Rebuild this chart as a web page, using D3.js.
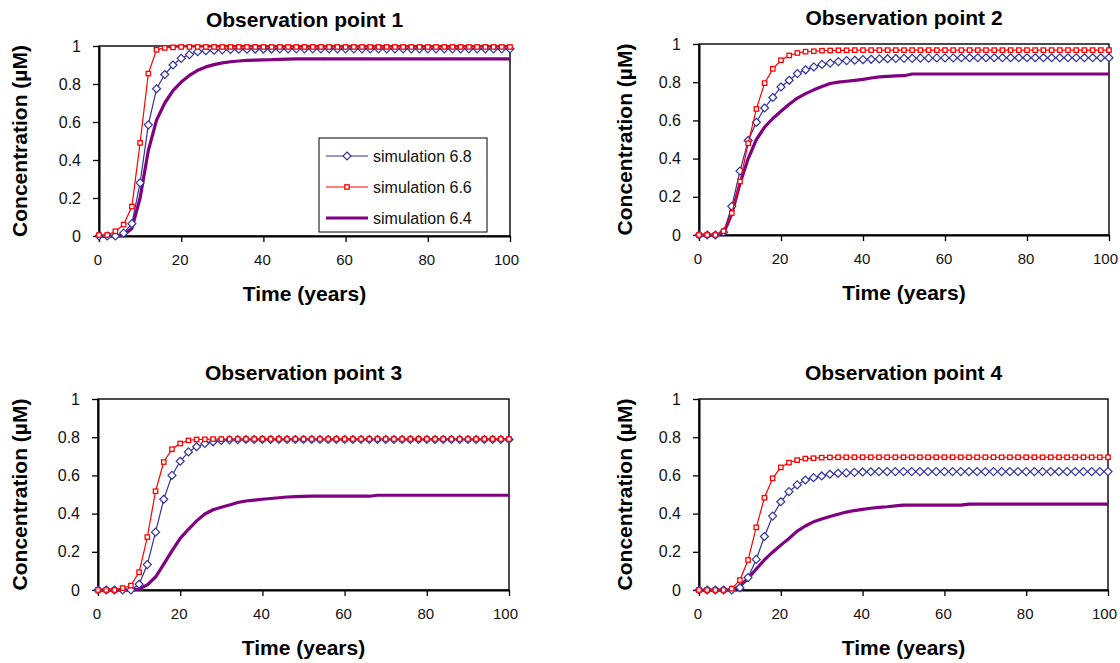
<!DOCTYPE html>
<html><head><meta charset="utf-8">
<script src="https://cdn.jsdelivr.net/npm/d3@7"></script>
<style>
body{margin:0;background:#fff;}
svg{display:block;font-family:"Liberation Sans",Arial,sans-serif;}
</style></head>
<body><svg id="c" width="1120" height="663"></svg>
<script>
// ---- data ----
const years = [0,2,4,6,8,10,12,14,16,18,20,22,24,26,28,30,32,34,36,38,40,42,44,46,48,50,52,54,56,58,60,62,64,66,68,70,72,74,76,78,80,82,84,86,88,90,92,94,96,98,100];
const seriesNames = ["simulation 6.8","simulation 6.6","simulation 6.4"];
const panelTitles = ["Observation point 1","Observation point 2","Observation point 3","Observation point 4"];
const xTicks = [0,20,40,60,80,100];
const yTicks = [0,0.2,0.4,0.6,0.8,1];
const xTitle = "Time (years)";
const yTitle = "Concentration (\u00B5M)";

// Observation point 1
const sim68_p1 = [0,0,0,0.015,0.065,0.28,0.585,0.775,0.85,0.9,0.935,0.955,0.97,0.975,0.978,0.98,0.982,0.983,0.983,0.984,0.984,0.984,0.985,0.985,0.985,0.985,0.985,0.985,0.985,0.985,0.985,0.985,0.985,0.985,0.985,0.985,0.985,0.985,0.985,0.985,0.985,0.985,0.985,0.985,0.985,0.985,0.985,0.985,0.985,0.985,0.985];
const sim66_p1 = [0.005,0.005,0.025,0.06,0.155,0.49,0.855,0.98,0.99,0.993,0.995,0.995,0.995,0.995,0.995,0.995,0.995,0.995,0.995,0.995,0.995,0.995,0.995,0.995,0.995,0.995,0.995,0.995,0.995,0.995,0.995,0.995,0.995,0.995,0.995,0.995,0.995,0.995,0.995,0.995,0.995,0.995,0.995,0.995,0.995,0.995,0.995,0.995,0.995,0.995,0.995];
const sim64_p1 = [0,0,0,0.005,0.04,0.2,0.45,0.61,0.7,0.765,0.81,0.845,0.872,0.89,0.902,0.911,0.917,0.921,0.924,0.926,0.927,0.928,0.93,0.931,0.932,0.932,0.932,0.932,0.932,0.932,0.932,0.932,0.932,0.932,0.932,0.932,0.932,0.932,0.932,0.932,0.932,0.932,0.932,0.932,0.932,0.932,0.932,0.932,0.932,0.932,0.932];

// Observation point 2
const sim68_p2 = [0,0,0,0.015,0.15,0.335,0.495,0.59,0.665,0.72,0.775,0.81,0.845,0.865,0.88,0.893,0.9,0.908,0.913,0.915,0.918,0.92,0.922,0.923,0.924,0.925,0.925,0.926,0.926,0.927,0.927,0.927,0.928,0.928,0.928,0.928,0.928,0.928,0.928,0.928,0.928,0.928,0.928,0.928,0.928,0.928,0.928,0.928,0.928,0.928,0.928];
const sim66_p2 = [0,0,0,0.02,0.115,0.28,0.48,0.66,0.795,0.87,0.915,0.94,0.953,0.96,0.962,0.965,0.966,0.967,0.967,0.968,0.968,0.968,0.968,0.968,0.968,0.968,0.968,0.968,0.968,0.968,0.968,0.968,0.968,0.968,0.968,0.968,0.968,0.968,0.968,0.968,0.968,0.968,0.968,0.968,0.968,0.968,0.968,0.968,0.968,0.968,0.968];
const sim64_p2 = [0,0,0,0.01,0.11,0.27,0.4,0.5,0.565,0.61,0.648,0.685,0.717,0.74,0.76,0.778,0.793,0.8,0.805,0.81,0.815,0.822,0.828,0.831,0.833,0.834,0.843,0.843,0.843,0.843,0.843,0.843,0.843,0.843,0.843,0.843,0.843,0.843,0.843,0.843,0.843,0.843,0.843,0.843,0.843,0.843,0.843,0.843,0.843,0.843,0.843];

// Observation point 3
const sim68_p3 = [0,0,0,0,0,0.03,0.133,0.303,0.475,0.6,0.674,0.723,0.75,0.767,0.776,0.783,0.786,0.787,0.788,0.788,0.788,0.788,0.788,0.788,0.788,0.788,0.788,0.788,0.788,0.788,0.788,0.788,0.788,0.788,0.788,0.788,0.788,0.788,0.788,0.788,0.788,0.788,0.788,0.788,0.788,0.788,0.788,0.788,0.788,0.788,0.788];
const sim66_p3 = [0,0,0,0.01,0.023,0.093,0.277,0.517,0.67,0.737,0.767,0.783,0.788,0.789,0.79,0.79,0.79,0.79,0.79,0.79,0.79,0.79,0.79,0.79,0.79,0.79,0.79,0.79,0.79,0.79,0.79,0.79,0.79,0.79,0.79,0.79,0.79,0.79,0.79,0.79,0.79,0.79,0.79,0.79,0.79,0.79,0.79,0.79,0.79,0.79,0.79];
const sim64_p3 = [0,0,0,0,0,0.005,0.027,0.068,0.135,0.205,0.27,0.318,0.362,0.398,0.42,0.433,0.445,0.458,0.466,0.471,0.475,0.479,0.483,0.487,0.489,0.49,0.491,0.491,0.491,0.491,0.491,0.491,0.491,0.491,0.496,0.496,0.496,0.496,0.496,0.496,0.496,0.496,0.496,0.496,0.496,0.496,0.496,0.496,0.496,0.496,0.496];

// Observation point 4
const sim68_p4 = [0,0,0,0,0,0.012,0.065,0.16,0.28,0.387,0.462,0.515,0.55,0.576,0.588,0.597,0.606,0.611,0.613,0.616,0.618,0.619,0.62,0.62,0.62,0.62,0.62,0.62,0.62,0.62,0.62,0.62,0.62,0.62,0.62,0.62,0.62,0.62,0.62,0.62,0.62,0.62,0.62,0.62,0.62,0.62,0.62,0.62,0.62,0.62,0.62];
const sim66_p4 = [0,0,0,0,0.007,0.052,0.157,0.328,0.483,0.585,0.642,0.667,0.68,0.688,0.69,0.693,0.694,0.695,0.695,0.695,0.695,0.695,0.695,0.695,0.695,0.695,0.695,0.695,0.695,0.695,0.695,0.695,0.695,0.695,0.695,0.695,0.695,0.695,0.695,0.695,0.695,0.695,0.695,0.695,0.695,0.695,0.695,0.695,0.695,0.695,0.695];
const sim64_p4 = [0,0,0,0,0,0.02,0.06,0.11,0.158,0.198,0.235,0.27,0.308,0.335,0.357,0.372,0.385,0.397,0.408,0.416,0.422,0.428,0.433,0.436,0.44,0.444,0.444,0.444,0.444,0.444,0.444,0.444,0.444,0.45,0.45,0.45,0.45,0.45,0.45,0.45,0.45,0.45,0.45,0.45,0.45,0.45,0.45,0.45,0.45,0.45,0.45];

const panelData = [
  [sim68_p1, sim66_p1, sim64_p1],
  [sim68_p2, sim66_p2, sim64_p2],
  [sim68_p3, sim66_p3, sim64_p3],
  [sim68_p4, sim66_p4, sim64_p4]
];

// ---- layout & style ----
const boxes = [
  {l:99, r:510, t:46, b:236, ylab:20},
  {l:699, r:1109, t:44, b:235, ylab:625},
  {l:98, r:509, t:399, b:590, ylab:20},
  {l:699, r:1108, t:399, b:590, ylab:625}
];
const colors = ["#333399","#ff0000","#800080"];
const svg = d3.select("#c");

panelData.forEach((series, pi) => {
  const bx = boxes[pi];
  const x = d3.scaleLinear().domain([0,100]).range([bx.l, bx.r]);
  const y = d3.scaleLinear().domain([0,1]).range([bx.b, bx.t]);
  const g = svg.append("g");

  // plot box (top/right)
  g.append("rect").attr("x", bx.l).attr("y", bx.t).attr("width", bx.r-bx.l).attr("height", bx.b-bx.t)
    .attr("fill","none").attr("stroke","#111").attr("stroke-width",1.5);

  const fmt = d => d === 0 ? "0" : d === 1 ? "1" : d3.format(".1f")(d);
  const xa = g.append("g").attr("transform",`translate(0,${bx.b})`)
    .call(d3.axisBottom(x).tickValues(xTicks).tickSize(6).tickSizeOuter(0).tickPadding(12).tickFormat(d3.format("d")));
  const ya = g.append("g").attr("transform",`translate(${bx.l},0)`)
    .call(d3.axisLeft(y).tickValues(yTicks).tickSize(6).tickSizeOuter(0).tickPadding(12).tickFormat(fmt));
  [xa, ya].forEach(a => {
    a.select(".domain").attr("stroke","#000").attr("stroke-width",2);
    a.selectAll(".tick line").attr("stroke","#000").attr("stroke-width",1.3);
    a.selectAll(".tick text").attr("fill","#111").attr("font-family","'Liberation Sans',Arial,sans-serif");
  });
  xa.selectAll(".tick text").attr("font-size","15px").attr("dx",d => d === 100 ? -4 : -1.5);
  ya.selectAll(".tick text").attr("font-size","16px");

  // series
  const line = d3.line().x((d,i)=>x(years[i])).y(d=>y(d));
  // purple (thick, no markers)
  g.append("path").datum(series[2]).attr("d", line).attr("fill","none")
    .attr("stroke", colors[2]).attr("stroke-width",3.2).attr("stroke-linejoin","round");
  // blue with diamonds
  g.append("path").datum(series[0]).attr("d", line).attr("fill","none")
    .attr("stroke", colors[0]).attr("stroke-width",1.2);
  const dsz = 4;
  g.selectAll(".dia").data(series[0]).enter().append("path")
    .attr("d",(d,i)=>{const cx=x(years[i]), cy=y(d); return `M${cx},${cy-dsz}L${cx+dsz},${cy}L${cx},${cy+dsz}L${cx-dsz},${cy}Z`;})
    .attr("fill","#fff").attr("stroke",colors[0]).attr("stroke-width",1.2);
  // red with squares
  g.append("path").datum(series[1]).attr("d", line).attr("fill","none")
    .attr("stroke", colors[1]).attr("stroke-width",1.2);
  const ss = 4.4;
  g.selectAll(".sq").data(series[1]).enter().append("rect")
    .attr("x",(d,i)=>x(years[i])-ss/2).attr("y",d=>y(d)-ss/2).attr("width",ss).attr("height",ss)
    .attr("fill","#fff").attr("stroke",colors[1]).attr("stroke-width",1.3);

  // titles
  g.append("text").attr("x",(bx.l+bx.r)/2).attr("y",bx.t-19).attr("text-anchor","middle")
    .attr("font-size","21px").attr("font-weight","bold").attr("fill","#000").text(panelTitles[pi]);
  g.append("text").attr("x",(bx.l+bx.r)/2).attr("y",bx.b+65).attr("text-anchor","middle")
    .attr("font-size","21px").attr("font-weight","bold").attr("fill","#000").text(xTitle);
  g.append("text").attr("transform",`translate(${bx.ylab+7},${(bx.t+bx.b)/2}) rotate(-90)`).attr("text-anchor","middle")
    .attr("font-size","21px").attr("font-weight","bold").attr("fill","#000").text(yTitle);

  // legend in panel 1
  if (pi === 0) {
    const lg = g.append("g");
    lg.append("rect").attr("x",319).attr("y",138).attr("width",168).attr("height",94)
      .attr("fill","#fff").attr("stroke","#000").attr("stroke-width",1);
    const rowsY = [156,187,218];
    seriesNames.forEach((nm, k) => {
      const ry = rowsY[k];
      lg.append("line").attr("x1",326).attr("x2",368).attr("y1",ry).attr("y2",ry)
        .attr("stroke",colors[k]).attr("stroke-width", k===2?3.2:1.2);
      if (k===0) lg.append("path").attr("d",`M347,${ry-dsz}L${347+dsz},${ry}L347,${ry+dsz}L${347-dsz},${ry}Z`)
        .attr("fill","#fff").attr("stroke",colors[0]).attr("stroke-width",1.2);
      if (k===1) lg.append("rect").attr("x",347-ss/2).attr("y",ry-ss/2).attr("width",ss).attr("height",ss)
        .attr("fill","#fff").attr("stroke",colors[1]).attr("stroke-width",1.3);
      lg.append("text").attr("x",373).attr("y",ry+6).attr("font-size","16px").attr("fill","#111").text(nm);
    });
  }
});
</script></body></html>
